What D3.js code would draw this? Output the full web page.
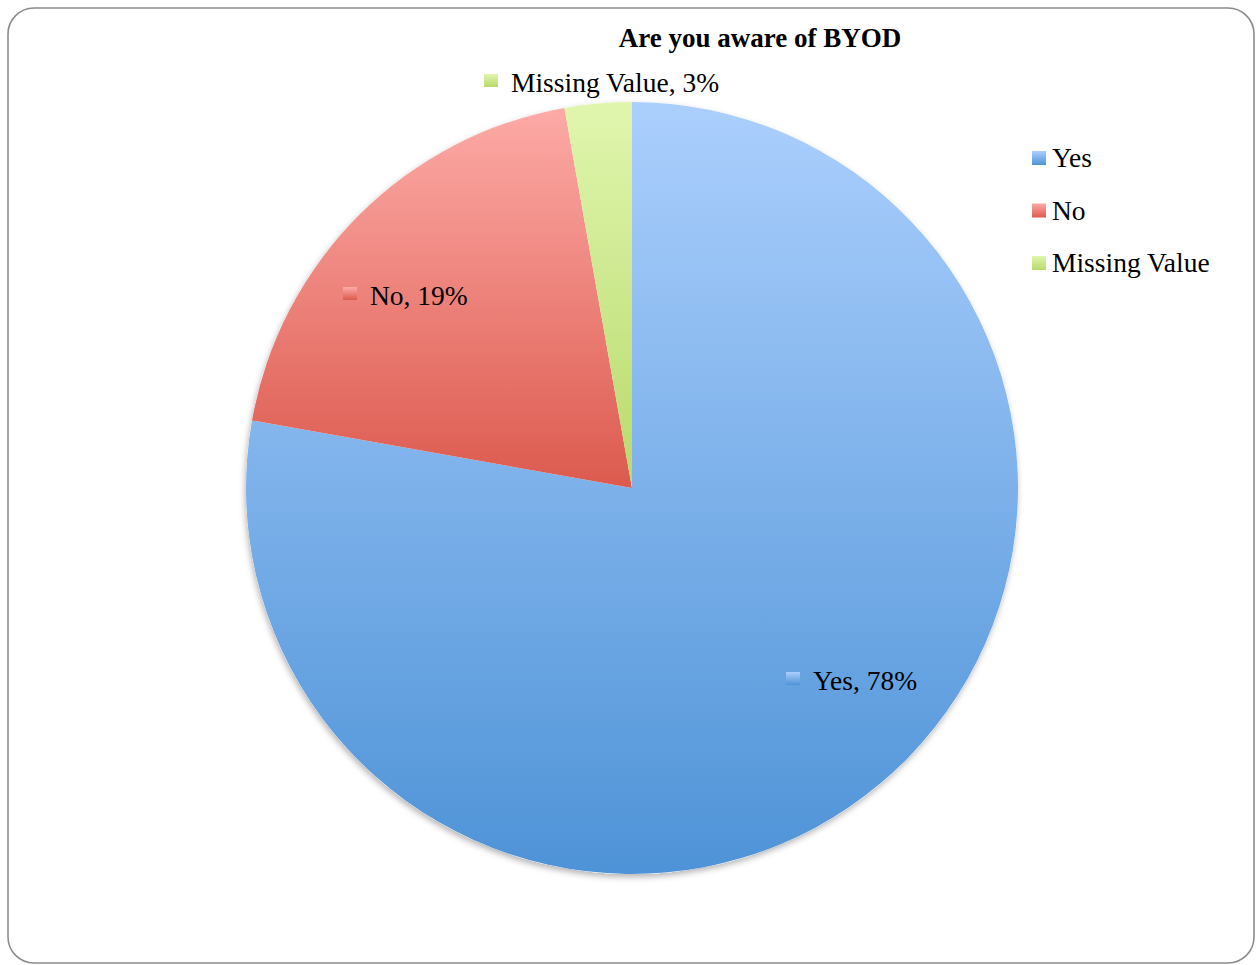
<!DOCTYPE html>
<html><head><meta charset="utf-8">
<script src="https://cdn.jsdelivr.net/npm/d3@7"></script>
<style>html,body{margin:0;padding:0;background:#fff;}svg{display:block;}</style>
</head><body>
<svg id="c" width="1257" height="965"></svg>
<script>
const title = "Are you aware of BYOD";
const categories = ["Yes", "No", "Missing Value"];
const values = [77.8, 19.4, 2.8];
const percentLabels = ["78%", "19%", "3%"];
const gradTop = ["#abcffd", "#fdaaa6", "#e0f6ae"];
const gradBottom = ["#4e93d7", "#dc5a4e", "#b8da6c"];

const svg = d3.select("#c");
const defs = svg.append("defs");
const font = "'Liberation Serif', serif";

// border
svg.append("rect").attr("x", 8).attr("y", 8).attr("width", 1246).attr("height", 955)
  .attr("rx", 26).attr("ry", 26).attr("fill", "#fff").attr("stroke", "#8c8c8c").attr("stroke-width", 1.6);

const cx = 632, cy = 488, R = 386;

categories.forEach((c, i) => {
  const g = defs.append("linearGradient").attr("id", "g" + i)
    .attr("x1", 0).attr("y1", 0).attr("x2", 0).attr("y2", 1);
  g.append("stop").attr("offset", 0).attr("stop-color", gradTop[i]);
  g.append("stop").attr("offset", 1).attr("stop-color", gradBottom[i]);
});
const f = defs.append("filter").attr("id", "sh").attr("x", "-10%").attr("y", "-10%").attr("width", "120%").attr("height", "120%");
f.append("feDropShadow").attr("dx", -1).attr("dy", 3).attr("stdDeviation", 3).attr("flood-color", "#000").attr("flood-opacity", 0.3);

const pie = d3.pie().sort(null).value(d => d)(values);
const arc = d3.arc().innerRadius(0).outerRadius(R);

const gPie = svg.append("g").attr("transform", `translate(${cx},${cy})`);
gPie.append("circle").attr("r", R).attr("fill", "#fff").attr("filter", "url(#sh)");
gPie.selectAll("path").data(pie).join("path")
  .attr("d", arc).attr("fill", (d, i) => `url(#g${i})`);

// title
svg.append("text").attr("x", 760).attr("y", 47).attr("text-anchor", "middle")
  .attr("font-family", font).attr("font-weight", "bold").attr("font-size", 27)
  .attr("fill", "#000").text(title);

// data labels
const labelPos = [[786, 690], [343, 305], [484, 92]];
pie.forEach((d, i) => {
  const [x, y] = labelPos[i];
  svg.append("rect").attr("x", x).attr("y", y - 18).attr("width", 14).attr("height", 13)
    .attr("fill", `url(#g${i})`);
  svg.append("text").attr("x", x + 27).attr("y", y)
    .attr("font-family", font).attr("font-size", 27.5).attr("fill", "#000")
    .text(categories[i] + ", " + percentLabels[i]);
});

// legend
const ly = d3.scalePoint().domain(categories).range([167, 272]);
categories.forEach((c, i) => {
  svg.append("rect").attr("x", 1032).attr("y", ly(c) - 16).attr("width", 14).attr("height", 14)
    .attr("fill", `url(#g${i})`);
  svg.append("text").attr("x", 1052).attr("y", ly(c))
    .attr("font-family", font).attr("font-size", 27.5).attr("fill", "#000").text(c);
});
</script>
</body></html>
